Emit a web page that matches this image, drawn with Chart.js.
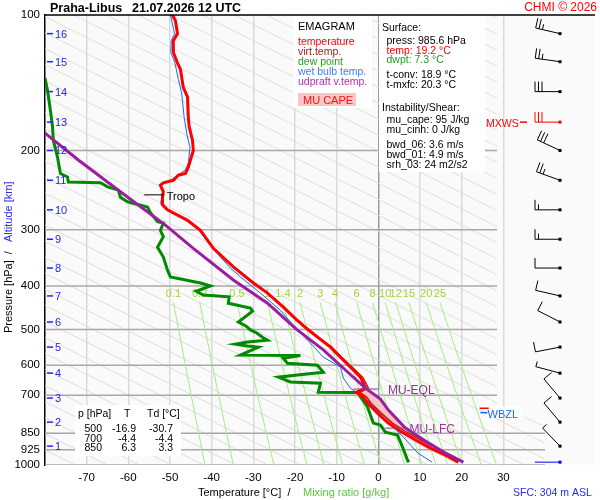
<!DOCTYPE html>
<html>
<head>
<meta charset="utf-8">
<title>Praha-Libus emagram</title>
<script src="https://cdn.jsdelivr.net/npm/chart.js@4.4.1/dist/chart.umd.min.js"></script>
<style>
  html, body { margin: 0; padding: 0; background: #fff; }
  #wrap { width: 600px; height: 500px; }
</style>
</head>
<body>
<div id="wrap"><canvas id="emagram" width="600" height="500"></canvas></div>
<script>
// emagram.js - sounding Praha-Libus

const FONT = '"Liberation Sans", Arial, Helvetica, sans-serif';

// axes
const pressureTicks = [100, 200, 300, 400, 500, 600, 700, 850, 925, 1000];
const isobarLevels = [200, 300, 400, 500, 600, 700, 850, 925, 1000];
const tempTicks = [-70, -60, -50, -40, -30, -20, -10, 0, 10, 20, 30];

// altitude marks [km] and their pressure [hPa]
const altitudeKm = [1, 2, 3, 4, 5, 6, 7, 8, 9, 10, 11, 12, 13, 14, 15, 16];
const altitudePressures = [908, 803, 710, 625, 547, 481, 421, 365, 315, 271, 233, 200, 173, 148, 127, 110];

// temperature profile
const tempPressures = [100, 103, 110, 114, 121, 128, 132, 145, 152, 169,
  177, 190, 200, 210, 218, 225, 227, 233, 236, 239,
  247, 254, 264, 271, 286, 301, 330, 363, 394, 415,
  446, 476, 500, 520, 547, 576, 606, 638, 658, 675,
  689, 706, 728, 767, 807, 841, 880, 917, 951, 985.6];
const temps = [-49.4, -48.7, -48.2, -49.2, -49.2, -48.2, -47.5, -46.8, -45.8, -45.6,
  -45.4, -44.6, -44.4, -45.1, -45.6, -46.3, -48.0, -49.2, -51.6, -52.3,
  -51.6, -51.8, -51.8, -50.6, -45.8, -42.7, -39.6, -34.8, -30.0, -26.6,
  -22.8, -19.6, -16.9, -14.6, -11.5, -9.1, -6.7, -4.3, -3.6, -3.1,
  -5.3, -3.6, -2.6, -0.2, 2.4, 5.3, 8.9, 12.5, 16.1, 19.2];
const virtTemps = [-49.4, -48.7, -48.2, -49.2, -49.2, -48.2, -47.5, -46.8, -45.8, -45.6,
  -45.4, -44.6, -44.4, -45.1, -45.6, -46.3, -48.0, -49.2, -51.6, -52.3,
  -51.6, -51.8, -51.8, -50.6, -45.8, -42.7, -39.5, -34.7, -29.9, -26.5,
  -22.7, -19.5, -16.7, -14.4, -11.2, -8.8, -6.3, -3.8, -3.0, -2.4,
  -4.5, -2.8, -1.8, 0.7, 3.4, 6.4, 10.1, 13.8, 17.4, 20.4];

// dew point profile
const dewPressures = [138, 147, 163, 177, 190, 207, 225, 229, 235, 236,
  241, 245, 254, 260, 267, 275, 288, 290, 301, 311,
  328, 345, 369, 382, 394, 400, 411, 419, 423, 437,
  448, 455, 472, 481, 491, 501, 509, 520, 528, 533,
  539, 544, 547, 570, 571, 579, 594, 600, 622, 631,
  638, 654, 658, 689, 690, 743, 807, 815, 845, 858,
  912, 975, 985.6];
const dewPoints = [-80.0, -79.4, -78.7, -78.2, -78.0, -77.0, -76.3, -74.6, -74.4, -66.7,
  -65.0, -62.4, -61.9, -60.2, -55.4, -54.7, -53.0, -51.6, -52.3, -51.6,
  -53.0, -51.6, -50.6, -49.9, -42.7, -40.3, -43.7, -42.0, -35.8, -36.0,
  -30.7, -30.2, -32.4, -33.6, -31.8, -30.7, -29.2, -27.8, -26.6, -31.4,
  -34.3, -31.4, -28.8, -33.1, -18.7, -22.8, -21.8, -14.6, -13.2, -19.4,
  -24.0, -21.1, -13.9, -14.4, -5.0, -2.6, -1.2, 0.5, 1.7, 4.6,
  5.8, 7.0, 7.3];

// wet bulb temperature profile
const wetBulbPressures = [100, 110, 114, 121, 128, 139, 149, 169, 185, 197,
  213, 221, 229, 233, 237, 240, 247, 258, 264, 271,
  286, 301, 330, 365, 382, 415, 453, 481, 536, 576,
  606, 641, 675, 689, 728, 783, 824, 867, 941, 985.6];
const wetBulbTemps = [-49.9, -48.9, -49.7, -49.8, -48.8, -48.0, -47.2, -46.6, -45.9, -45.2,
  -45.6, -46.3, -48.7, -49.9, -51.8, -52.3, -51.8, -52.1, -52.1, -50.9,
  -46.1, -43.0, -39.8, -35.5, -33.1, -28.3, -23.5, -21.1, -16.3, -13.2,
  -9.1, -8.4, -6.7, -5.3, -1.9, 1.2, 3.6, 6.0, 9.5, 12.9];

// most unstable parcel, virtual temperature
const parcelPressures = [183, 210, 247, 293, 330, 388, 437, 499, 555, 615,
  675, 714, 755, 828, 885, 941, 985.6];
const parcelTemps = [-80.0, -72.0, -61.9, -51.1, -44.4, -34.8, -26.6, -19.7, -13.2, -7.9,
  -3.1, 0.5, 2.4, 6.5, 11.3, 16.1, 20.4];

// special levels [hPa]
const tropoPressure = 251;
const eqlPressure = 678;
const lfcPressure = 828;
const freezingPressure = 748;
const wbzPressure = 765;
const maxWindPressure = 173;

// mixing ratio lines [g/kg]
const mixingRatios = [0.1, 0.2, 0.5, 1, 1.4, 2, 3, 4, 6, 8, 10, 12, 15, 20, 25];
const mixingLabels = ['0.1', '0.2', '0.5', '1', '1.4', '2', '3', '4', '6', '8', '10', '12', '15', '20', '25'];
const mixPressures = [435, 500, 600, 700, 800, 900, 1000];

// winds on the km levels
const windPressures = [985.6, 908, 803, 710, 625, 547, 481, 421, 365, 315, 271, 233, 200, 173, 148, 127, 110];
const windDirs = [270, 316, 320, 320, 285, 259, 297, 283, 270, 270, 270, 290, 295, 270, 270, 278, 283];
const windSpeeds = [2, 5, 10, 10, 5, 10, 10, 10, 10, 15, 15, 25, 30, 30, 30, 25, 25];

// text panels
const surfaceLines = [
  ['Surface:', '#000', 0],
  ['press: 985.6 hPa', '#000', 1],
  ['temp: 19.2 \u00b0C', '#ff0000', 1],
  ['dwpt: 7.3 \u00b0C', '#22a022', 1],
  ['t-conv: 18.9 \u00b0C', '#000', 1],
  ['t-mxfc: 20.3 \u00b0C', '#000', 1],
  ['Instability/Shear:', '#000', 0],
  ['mu_cape: 95 J/kg', '#000', 1],
  ['mu_cinh: 0 J/kg', '#000', 1],
  ['bwd_06: 3.6 m/s', '#000', 1],
  ['bwd_01: 4.9 m/s', '#000', 1],
  ['srh_03: 24 m2/s2', '#000', 1]
];
const surfaceBaselines = [31, 43.5, 53.5, 63, 77.5, 87.5, 111, 122.5, 132.5, 148, 158, 168];
const legendLines = [
  ['temperature', '#ff0000'],
  ['virt.temp.', '#a31c1c'],
  ['dew point', '#22a022'],
  ['wet bulb temp.', '#3c7cff'],
  ['udpraft v.temp.', '#b030b0']
];
const tablePressures = [500, 700, 850];
const tableT = [-16.9, -4.4, 6.3];
const tableTd = [-30.7, -4.4, 3.3];

// helpers
function xy(pArr, tArr) {
  return pArr.map((p, i) => ({ x: tArr[i], y: p }));
}

function interp(pArr, tArr, p) {
  for (let i = 0; i < pArr.length - 1; i++) {
    if (p >= pArr[i] && p <= pArr[i + 1]) {
      const f = Math.log(p / pArr[i]) / Math.log(pArr[i + 1] / pArr[i]);
      return tArr[i] + f * (tArr[i + 1] - tArr[i]);
    }
  }
  return tArr[tArr.length - 1];
}

function layerSlice(pArr, tArr, pTop, pBot) {
  const pts = [{ x: interp(pArr, tArr, pTop), y: pTop }];
  pArr.forEach((p, i) => { if (p > pTop && p < pBot) pts.push({ x: tArr[i], y: p }); });
  pts.push({ x: interp(pArr, tArr, pBot), y: pBot });
  return pts;
}

// dew point [C] of air with mixing ratio w [g/kg] at pressure p [hPa]
function dewpointFromMixing(w, p) {
  const e = w * p / (622 + w);
  const g = Math.log(e / 6.112);
  return 243.5 * g / (17.67 - g);
}

const capeShape = layerSlice(parcelPressures, parcelTemps, eqlPressure, lfcPressure)
  .concat(layerSlice(tempPressures, temps, eqlPressure, lfcPressure).reverse());

function lineSet(data, color, width, order) {
  return { data, borderColor: color, borderWidth: width, showLine: true, pointRadius: 0,
    tension: 0, fill: false, order };
}

const datasets = [
  lineSet(xy(parcelPressures, parcelTemps), '#9a1f9e', 3, 0),
  lineSet(xy(tempPressures, temps), '#ff0000', 3, 1),
  lineSet(xy(tempPressures, virtTemps), '#c81414', 1.5, 2),
  lineSet(xy(dewPressures, dewPoints), '#008a00', 3, 3),
  lineSet(xy(wetBulbPressures, wetBulbTemps), '#1f66ff', 1, 4),
  Object.assign(lineSet(capeShape, 'rgba(0,0,0,0)', 0, 10),
    { fill: 'shape', backgroundColor: '#f6c4c4' })
];

mixingRatios.forEach(w => {
  const pts = mixPressures.map(p => ({ x: dewpointFromMixing(w, p), y: p }));
  datasets.push(lineSet(pts, '#a6ee80', 1, 20));
});

isobarLevels.forEach(p => {
  const right = p < 780 ? 28.5 : 40;
  datasets.push(lineSet([{ x: -80, y: p }, { x: right, y: p }], '#a8a8a8', 1.5, 30));
});

// wind barb: staff points to where the wind blows from
function drawBarb(ctx, x0, y0, dir, speed, color) {
  const rad = dir * Math.PI / 180;
  const dx = Math.sin(rad), dy = -Math.cos(rad);
  const px = -dy, py = dx;
  const len = 25;
  ctx.strokeStyle = color;
  ctx.fillStyle = color;
  ctx.lineWidth = 1;
  ctx.beginPath();
  ctx.moveTo(x0, y0);
  ctx.lineTo(x0 + dx * len, y0 + dy * len);
  const full = Math.floor(speed / 10);
  const half = speed % 10 >= 5;
  let d = len;
  for (let i = 0; i < full; i++) {
    const sx = x0 + dx * d, sy = y0 + dy * d;
    ctx.moveTo(sx, sy);
    ctx.lineTo(sx + px * 10, sy + py * 10);
    d -= 3.5;
  }
  if (half) {
    const sx = x0 + dx * d, sy = y0 + dy * d;
    ctx.moveTo(sx, sy);
    ctx.lineTo(sx + px * 5.5, sy + py * 5.5);
  }
  ctx.stroke();
  ctx.fillRect(x0 - 1.5, y0 - 1.5, 3, 3);
}

const decorPlugin = {
  id: 'emagramDecor',
  beforeDraw(chart) {
    const { ctx, chartArea: a } = chart;
    ctx.save();
    ctx.fillStyle = '#fafafa';
    ctx.fillRect(a.left, a.top, a.right - a.left, a.bottom - a.top);
    ctx.restore();
  },
  beforeDatasetsDraw(chart) {
    const { ctx, chartArea: a, scales: { x, y } } = chart;
    // background hatching
    ctx.save();
    ctx.beginPath();
    ctx.moveTo(a.left, a.top);
    ctx.lineTo(x.getPixelForValue(28.5), a.top);
    ctx.lineTo(x.getPixelForValue(28.5), y.getPixelForValue(780));
    ctx.lineTo(x.getPixelForValue(40), y.getPixelForValue(780));
    ctx.lineTo(x.getPixelForValue(40), a.bottom);
    ctx.lineTo(a.left, a.bottom);
    ctx.closePath();
    ctx.clip();
    ctx.strokeStyle = '#dedede';
    ctx.lineWidth = 1;
    for (let t = -80.4; t < 250; t += 7.7) {
      ctx.beginPath();
      ctx.moveTo(x.getPixelForValue(t), y.getPixelForValue(1000));
      ctx.lineTo(x.getPixelForValue(t - 216), y.getPixelForValue(100));
      ctx.stroke();
    }
    ctx.restore();

    // mixing ratio labels
    ctx.save();
    ctx.font = '11px ' + FONT;
    ctx.fillStyle = '#9fd43a';
    ctx.textAlign = 'center';
    mixingRatios.forEach((w, i) => {
      ctx.fillText(mixingLabels[i], x.getPixelForValue(dewpointFromMixing(w, mixPressures[0])),
        y.getPixelForValue(415) + 4);
    });
    ctx.restore();
  },
  afterDatasetsDraw(chart) {
    const { ctx, chartArea: a, scales: { x, y } } = chart;
    ctx.save();

    // frame top
    ctx.strokeStyle = '#000';
    ctx.lineWidth = 1.5;
    ctx.beginPath();
    ctx.moveTo(a.left, a.top);
    ctx.lineTo(a.right, a.top);
    ctx.stroke();

    // altitude marks
    ctx.font = '11px ' + FONT;
    ctx.fillStyle = '#2424f0';
    ctx.strokeStyle = '#2424f0';
    ctx.lineWidth = 1.5;
    ctx.textAlign = 'left';
    altitudeKm.forEach((km, i) => {
      const yy = y.getPixelForValue(altitudePressures[i]);
      ctx.beginPath();
      ctx.moveTo(a.left + 2, yy);
      ctx.lineTo(a.left + 8, yy);
      ctx.stroke();
      ctx.fillText(String(km), a.left + 10, yy + 4);
    });

    // tropopause
    const yt = y.getPixelForValue(tropoPressure);
    ctx.strokeStyle = '#000';
    ctx.lineWidth = 1;
    ctx.beginPath();
    ctx.moveTo(x.getPixelForValue(-56.2), yt);
    ctx.lineTo(x.getPixelForValue(-51.4), yt);
    ctx.stroke();
    ctx.fillStyle = '#000';
    ctx.fillText('Tropo', x.getPixelForValue(-50.8), yt + 5);

    // EQL / LFC
    ctx.strokeStyle = '#993399';
    ctx.fillStyle = '#993399';
    ctx.font = '12px ' + FONT;
    const ye = y.getPixelForValue(eqlPressure);
    ctx.beginPath();
    ctx.moveTo(x.getPixelForValue(-6.0), ye);
    ctx.lineTo(x.getPixelForValue(0), ye);
    const yl = y.getPixelForValue(lfcPressure);
    ctx.moveTo(x.getPixelForValue(1.7), yl);
    ctx.lineTo(x.getPixelForValue(7.2), yl);
    ctx.stroke();
    ctx.fillText('MU-EQL', x.getPixelForValue(2.3), ye + 5);
    ctx.fillText('MU-LFC', x.getPixelForValue(7.5), yl + 5);

    // WBZL
    const yf = y.getPixelForValue(freezingPressure);
    const yw = y.getPixelForValue(wbzPressure);
    ctx.fillStyle = '#ffffff';
    ctx.fillRect(x.getPixelForValue(26), yf - 2, 36, 12);
    ctx.lineWidth = 1.5;
    ctx.strokeStyle = '#ff0000';
    ctx.beginPath();
    ctx.moveTo(x.getPixelForValue(24.3), yf);
    ctx.lineTo(x.getPixelForValue(26.5), yf);
    ctx.stroke();
    ctx.strokeStyle = '#2060ff';
    ctx.beginPath();
    ctx.moveTo(x.getPixelForValue(24.5), yw);
    ctx.lineTo(x.getPixelForValue(26.2), yw);
    ctx.stroke();
    ctx.font = '11px ' + FONT;
    ctx.fillStyle = '#2060ff';
    ctx.fillText('WBZL', x.getPixelForValue(26.2), yw + 5);

    // MXWS
    const ym = y.getPixelForValue(maxWindPressure);
    ctx.fillStyle = '#ff0000';
    ctx.strokeStyle = '#ff0000';
    ctx.font = '10.5px ' + FONT;
    ctx.fillText('MXWS', 486, ym + 4.5);
    ctx.beginPath();
    ctx.moveTo(520, ym);
    ctx.lineTo(527, ym);
    ctx.stroke();

    // wind barbs
    const xb = a.right - 35;
    windPressures.forEach((p, i) => {
      let color = '#000';
      if (p === maxWindPressure) color = '#ff0000';
      if (i === 0) color = '#0000ee';
      drawBarb(ctx, xb, y.getPixelForValue(p), windDirs[i], windSpeeds[i], color);
    });

    // legend panel
    ctx.fillStyle = '#ffffff';
    ctx.fillRect(293, 16, 79, 92);
    ctx.font = '11px ' + FONT;
    ctx.fillStyle = '#000';
    ctx.fillText('EMAGRAM', 298, 29.5);
    ctx.font = '10.5px ' + FONT;
    legendLines.forEach((l, i) => {
      ctx.fillStyle = l[1];
      ctx.fillText(l[0], 298, 44.5 + i * 10);
    });
    ctx.fillStyle = '#f8c6c6';
    ctx.fillRect(298, 93, 58, 13);
    ctx.fillStyle = '#ff1010';
    ctx.font = '11px ' + FONT;
    ctx.fillText('MU CAPE', 303, 104);

    // surface panel
    ctx.fillStyle = '#ffffff';
    ctx.fillRect(379, 16, 106, 156);
    ctx.font = '10.5px ' + FONT;
    surfaceLines.forEach((l, i) => {
      ctx.fillStyle = l[1];
      ctx.fillText(l[0], l[2] ? 386.5 : 382, surfaceBaselines[i]);
    });

    // 500/700/850 table
    ctx.fillStyle = '#ffffff';
    ctx.fillRect(75, 405, 106, 51);
    ctx.fillStyle = '#000';
    ctx.font = '10.5px ' + FONT;
    ctx.fillText('p [hPa]', 78, 417);
    ctx.fillText('T', 124, 417);
    ctx.fillText('Td [\u00b0C]', 147, 417);
    ctx.textAlign = 'right';
    tablePressures.forEach((p, i) => {
      const yy = 432 + i * 9.7;
      ctx.fillText(String(p), 102, yy);
      ctx.fillText(tableT[i].toFixed(1), 136, yy);
      ctx.fillText(tableTd[i].toFixed(1), 173, yy);
    });
    ctx.restore();
  },
  afterDraw(chart) {
    const { ctx } = chart;
    ctx.save();
    ctx.textAlign = 'left';
    ctx.fillStyle = '#000';
    ctx.font = 'bold 12.5px ' + FONT;
    ctx.fillText('Praha-Libus', 50, 12);
    ctx.fillText('21.07.2026 12 UTC', 132, 12);
    ctx.font = '12px ' + FONT;
    ctx.fillStyle = '#ff0000';
    ctx.textAlign = 'right';
    ctx.fillText('CHMI \u00a9 2026', 597, 11);
    ctx.textAlign = 'left';

    // axis titles
    ctx.font = '11px ' + FONT;
    ctx.fillStyle = '#000';
    ctx.fillText('Temperature [\u00b0C]  /', 198, 496);
    ctx.fillStyle = '#5cc83a';
    ctx.fillText('Mixing ratio [g/kg]', 303, 496);
    ctx.fillStyle = '#2a2af0';
    ctx.font = '10.5px ' + FONT;
    ctx.fillText('SFC: 304 m ASL', 513, 496);

    ctx.font = '11px ' + FONT;
    ctx.save();
    ctx.translate(12, 333);
    ctx.rotate(-Math.PI / 2);
    ctx.fillStyle = '#000';
    ctx.fillText('Pressure [hPa]  /', 0, 0);
    ctx.restore();
    ctx.save();
    ctx.translate(12, 242);
    ctx.rotate(-Math.PI / 2);
    ctx.fillStyle = '#2a2af0';
    ctx.fillText('Altitude [km]', 0, 0);
    ctx.restore();
    ctx.restore();
  }
};

Chart.defaults.font.family = FONT;

const emagram = new Chart(document.getElementById('emagram'), {
  type: 'scatter',
  data: { datasets },
  options: {
    responsive: false,
    animation: false,
    events: [],
    layout: { padding: { left: 0, top: 15, right: 5, bottom: 0 } },
    plugins: { legend: { display: false }, tooltip: { enabled: false } },
    scales: {
      x: {
        type: 'linear',
        min: -80,
        max: 52,
        afterBuildTicks: axis => { axis.ticks = tempTicks.map(v => ({ value: v })); },
        afterFit: axis => { axis.height = 35; },
        border: { display: false },
        grid: {
          drawTicks: false,
          lineWidth: 1.5,
          color: c => (c.tick && c.tick.value === 0 ? '#9a9a9a' : '#dadada')
        },
        ticks: { color: '#000', font: { size: 11.5 }, padding: 6, maxRotation: 0,
          autoSkip: false, callback: v => String(v) }
      },
      y: {
        type: 'logarithmic',
        min: 100,
        max: 1000,
        reverse: true,
        afterBuildTicks: axis => { axis.ticks = pressureTicks.map(v => ({ value: v })); },
        afterFit: axis => { axis.width = 45; },
        border: { display: true, color: '#000', width: 1.5 },
        grid: { display: false, drawTicks: false },
        ticks: { color: '#000', font: { size: 11.5 }, padding: 5, autoSkip: false,
          callback: v => String(v) }
      }
    }
  },
  plugins: [decorPlugin]
});
</script>
</body>
</html>
